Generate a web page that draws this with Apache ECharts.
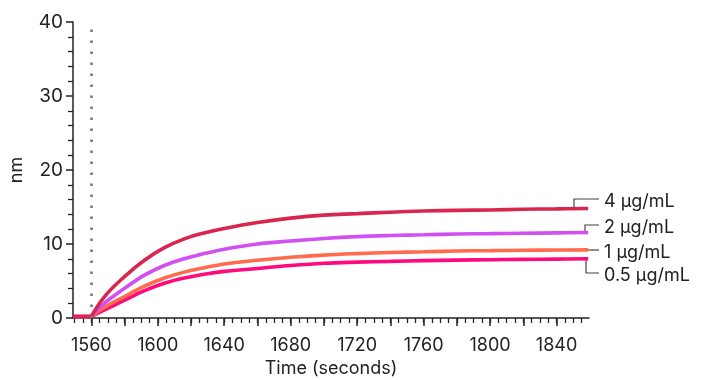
<!DOCTYPE html>
<html>
<head>
<meta charset="utf-8">
<script src="https://cdn.jsdelivr.net/npm/echarts@6/dist/echarts.min.js"></script>
<style>
  html, body { margin: 0; padding: 0; background: #fff; }
  #main { width: 702px; height: 380px; }
</style>
</head>
<body>
<div id="main"></div>
<script>
(function () {
    var chart = echarts.init(document.getElementById('main'));

    // 时间 (seconds)
    var times = [1549, 1560, 1568, 1580, 1592, 1604, 1616, 1628, 1640, 1660, 1680, 1700, 1720, 1740, 1760, 1780, 1800, 1820, 1840, 1859];
    var seriesNames = ['4 µg/mL', '2 µg/mL', '1 µg/mL', '0.5 µg/mL'];
    var colors = ['#d9264f', '#d24ff2', '#ff6b4c', '#ff0a7c'];
    var conc4 = [0.2, 0.2, 2.9, 5.6, 7.8, 9.5, 10.7, 11.5, 12.1, 12.9, 13.5, 13.9, 14.1, 14.3, 14.45, 14.55, 14.6, 14.7, 14.75, 14.8];
    var conc2 = [0.2, 0.2, 2.0, 4.0, 5.8, 7.1, 8.0, 8.7, 9.3, 10.0, 10.4, 10.75, 11.0, 11.15, 11.25, 11.35, 11.4, 11.45, 11.5, 11.55];
    var conc1 = [0.2, 0.2, 1.45, 2.9, 4.3, 5.4, 6.2, 6.8, 7.3, 7.8, 8.2, 8.5, 8.7, 8.85, 8.95, 9.05, 9.1, 9.15, 9.18, 9.2];
    var conc05 = [0.2, 0.2, 1.1, 2.4, 3.7, 4.7, 5.4, 5.9, 6.3, 6.7, 7.1, 7.4, 7.55, 7.65, 7.75, 7.82, 7.88, 7.92, 7.96, 8.0];
    var allValues = [conc4, conc2, conc1, conc05];

    var xLabels = [1560, 1600, 1640, 1680, 1720, 1760, 1800, 1840];
    var xMajorTicks = [1560, 1580, 1600, 1620, 1640, 1660, 1680, 1700, 1720, 1740, 1760, 1780, 1800, 1820, 1840];
    var xMinorTicks = [];
    for (var t = 1550; t <= 1855; t += 5) { xMinorTicks.push(t); }
    var injectTime = 1560;

    var font = 'Inter, "Noto Sans", sans-serif';
    var axisColor = '#222';

    // 基线段和结合段分开，避免平滑时在 1560 处拐弯
    function pairs(vals) {
        var out = [];
        times.forEach(function (t, i) {
            out.push([t, vals[i]]);
            if (t === injectTime) {
                out.push([t, '-']);
                out.push([t, vals[i]]);
            }
        });
        return out;
    }

    // 画线的顺序：0.5 在底层，4 在最上层
    var series = [];
    for (var k = allValues.length - 1; k >= 0; k--) {
        series.push({
            name: seriesNames[k],
            type: 'line',
            data: pairs(allValues[k]),
            smooth: 0.4,
            connectNulls: false,
            symbol: 'none',
            lineStyle: { color: colors[k], width: 3.6 },
            z: 3
        });
    }
    series[0].markLine = {
        silent: true,
        symbol: 'none',
        label: { show: false },
        lineStyle: { color: '#777', width: 2.6, type: [2.6, 8.4] },
        data: [{ xAxis: injectTime }]
    };

    chart.setOption({
        animation: false,
        textStyle: { fontFamily: font },
        grid: { left: 73, right: 113, top: 22, bottom: 62, outerBoundsMode: 'none' },
        xAxis: [{
            type: 'value',
            min: 1549,
            max: 1859.5,
            name: 'Time (seconds)',
            nameLocation: 'middle',
            nameGap: 39,
            nameTextStyle: { fontSize: 18, color: axisColor, fontFamily: font },
            axisLine: { show: true, lineStyle: { color: axisColor, width: 1.5 } },
            axisTick: { show: true, length: 8, customValues: xMajorTicks, lineStyle: { color: axisColor, width: 1.5 } },
            axisLabel: {
                customValues: xLabels, margin: 19, fontSize: 18, color: axisColor, fontFamily: font,
                formatter: function (v) { return String(v); }
            },
            splitLine: { show: false }
        }, {
            type: 'value',
            min: 1549,
            max: 1859.5,
            position: 'bottom',
            axisLine: { show: false },
            axisTick: { show: true, length: 5, customValues: xMinorTicks, lineStyle: { color: axisColor, width: 1.3 } },
            axisLabel: { show: false },
            splitLine: { show: false }
        }],
        yAxis: {
            type: 'value',
            min: 0,
            max: 40,
            interval: 10,
            name: 'nm',
            nameLocation: 'middle',
            nameGap: 47,
            nameTextStyle: { fontSize: 18, color: axisColor, fontFamily: font },
            axisLine: { show: true, lineStyle: { color: axisColor, width: 1.5 } },
            axisTick: { show: true, length: 7, lineStyle: { color: axisColor, width: 1.5 } },
            minorTick: { show: true, splitNumber: 5, length: 5, lineStyle: { color: axisColor, width: 1.3 } },
            axisLabel: { margin: 10, fontSize: 19, color: axisColor, fontFamily: font },
            splitLine: { show: false }
        },
        series: series
    });

    // 右侧标签和折线引线
    var labelY = [199, 225, 250, 273];
    var bendX = [574, 585, null, 586];
    var graphics = [];
    for (var i = 0; i < allValues.length; i++) {
        var vals = allValues[i];
        var end = chart.convertToPixel({ xAxisIndex: 0, yAxisIndex: 0 }, [times[times.length - 1], vals[vals.length - 1]]);
        var pts;
        if (bendX[i] === null) {
            pts = [[end[0], labelY[i]], [599, labelY[i]]];
        } else {
            pts = [[bendX[i], end[1]], [bendX[i], labelY[i]], [599, labelY[i]]];
        }
        graphics.push({
            type: 'polyline',
            shape: { points: pts },
            style: { stroke: '#444', lineWidth: 1.2, fill: null },
            z: 1
        });
        graphics.push({
            type: 'text',
            x: 604,
            y: labelY[i] + 3,
            style: {
                text: seriesNames[i],
                font: '18px ' + font,
                fill: axisColor,
                verticalAlign: 'middle'
            }
        });
    }
    chart.setOption({ graphic: graphics });
})();
</script>
</body>
</html>
